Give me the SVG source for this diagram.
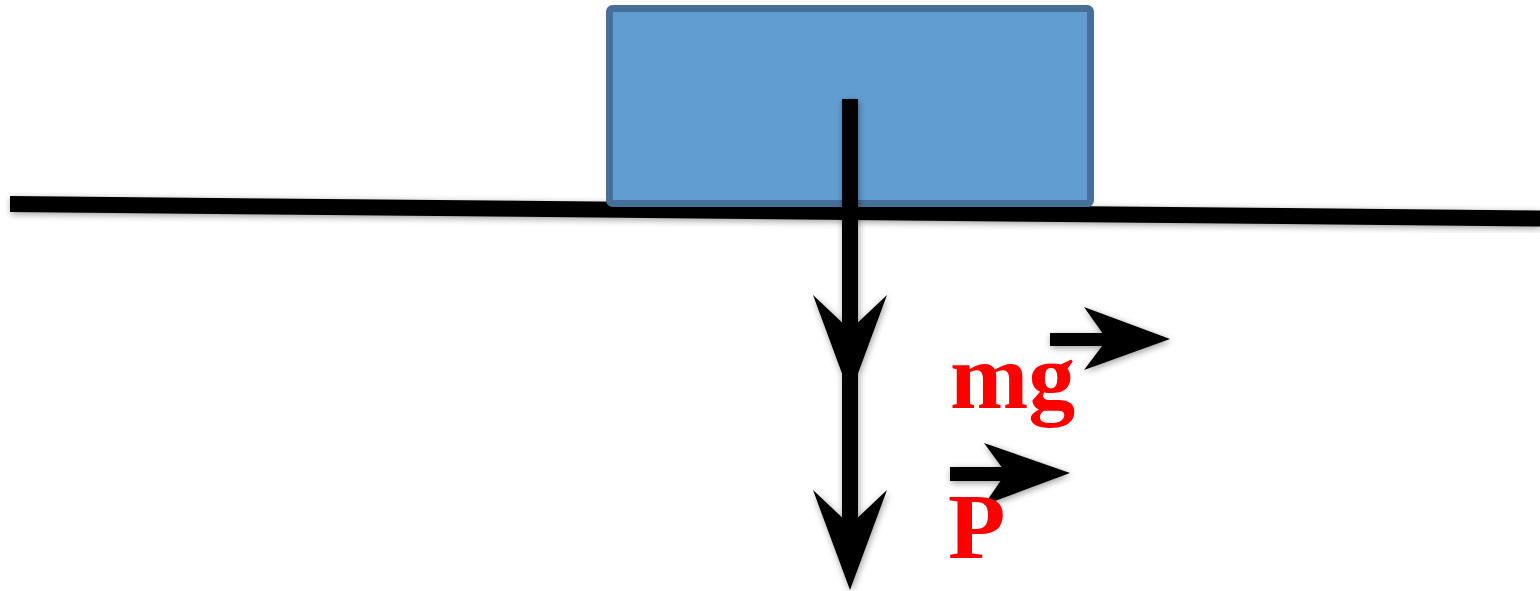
<svg xmlns="http://www.w3.org/2000/svg" width="1540" height="591" viewBox="0 0 1540 591">
<style>
.lbl{font-family:"Liberation Serif","Times New Roman",serif;font-weight:bold;font-size:94px;fill:#FF0000}
.ink{fill:#000}
</style>
<defs>
<filter id="sh" x="-20%" y="-20%" width="140%" height="140%">
<feGaussianBlur in="SourceAlpha" stdDeviation="3.5"/>
<feOffset dx="1" dy="2" result="b"/>
<feComponentTransfer><feFuncA type="linear" slope="0.4"/></feComponentTransfer>
<feMerge><feMergeNode/><feMergeNode in="SourceGraphic"/></feMerge>
</filter>
</defs>
<g id="ground" filter="url(#sh)">
<polygon points="10,196 1540,210.5 1540,226.5 10,212" class="ink"/>
</g>
<g id="block">
<rect x="609.5" y="8.5" width="481" height="195" rx="3" fill="#629DD1" stroke="#46709A" stroke-width="7"/>
</g>
<g id="connectors" filter="url(#sh)">
<rect x="842" y="99" width="16" height="470" class="ink"/>
<polygon points="813,295 850,330 887,295 850,395" class="ink"/>
<polygon points="813,490 850,525 887,490 850,590" class="ink"/>
<rect x="1050" y="333" width="60" height="13" class="ink"/>
<polygon points="1084,307 1107,339.5 1084,370 1170,339" class="ink"/>
<rect x="950" y="467" width="60" height="14" class="ink"/>
<polygon points="984,443 1006,473 984,505 1070,473" class="ink"/>
</g>
<g id="labels">
<text x="950" y="408" class="lbl">mg</text>
<text x="948" y="558" class="lbl">P</text>
</g>
</svg>
